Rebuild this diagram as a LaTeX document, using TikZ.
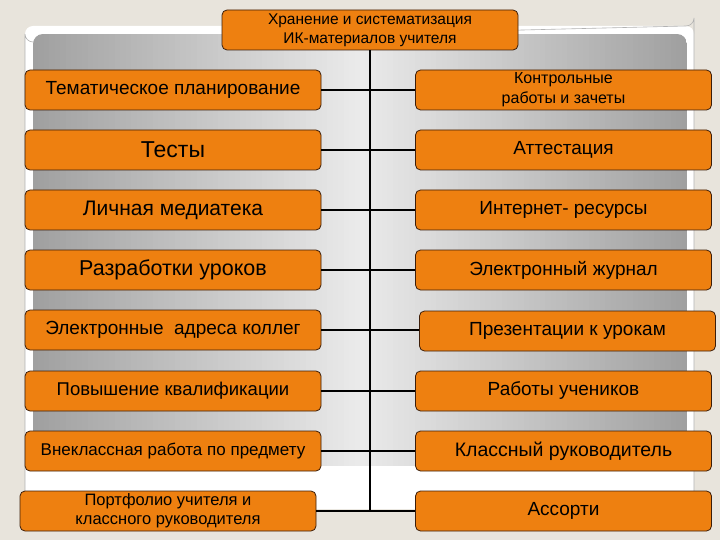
\documentclass[tikz,border=0pt]{standalone}
\usepackage{fontspec}
\setmainfont{Liberation Sans}
\definecolor{bgbeige}{RGB}{232,228,220}
\definecolor{boxfill}{RGB}{238,128,16}
\definecolor{boxline}{RGB}{60,30,10}
\definecolor{grayedge}{RGB}{160,160,160}
\definecolor{graymid}{RGB}{234,234,234}
\tikzset{
  box/.style={draw=boxline, line width=0.8pt, fill=boxfill, rounded corners=5pt,
    minimum width=296pt, minimum height=40pt, inner sep=2pt, align=center,
    text=black, font=\fontsize{19}{22}\selectfont},
  conn/.style={draw=black, line width=1.8pt}
}
\begin{document}
\begin{tikzpicture}[x=1pt,y=-1pt]
\useasboundingbox (0,0) rectangle (720,540);
\fill[bgbeige] (0,0) rectangle (720,540);
% white slide panel
\fill[white, rounded corners=8pt] (25,26) rectangle (694,509);
\draw[gray!60, line width=0.6pt] (25,509) -- (25,34) arc[start angle=180,end angle=90,radius=8] -- (686,26) arc[start angle=90,end angle=0,radius=8] -- (694,509);
% gray gradient panel (strips)
\begin{scope}
\clip[rounded corners=10pt] (33,34) rectangle (687,466);
\foreach \k in {0,...,59} {
  \pgfmathsetmacro{\t}{100*\k/59}
  \pgfmathsetmacro{\xa}{33+\k*5.45}
  \fill[graymid!\t!grayedge] (\xa,34) rectangle ++(6,432);
  \fill[graymid!\t!grayedge] (687-\k*5.45,34) rectangle ++(-6,432);
}
\end{scope}

\node[box, font=\fontsize{15.5}{19}\selectfont] (top) at (370,30) {Хранение и систематизация\\ИК-материалов учителя};

\node[box] (l1) at (173,90) {Тематическое планирование};
\node[box, font=\fontsize{23}{26}\selectfont] (l2) at (173,150) {Тесты};
\node[box, font=\fontsize{21}{24}\selectfont] (l3) at (173,210) {Личная медиатека};
\node[box, font=\fontsize{21.5}{24}\selectfont] (l4) at (173,270) {Разработки уроков};
\node[box] (l5) at (173,330) {Электронные\ \ адреса коллег};
\node[box, font=\fontsize{18.5}{22}\selectfont] (l6) at (173,391) {Повышение квалификации};
\node[box, font=\fontsize{17}{20}\selectfont] (l7) at (173,451) {Внеклассная работа по предмету};
\node[box, font=\fontsize{16.5}{19}\selectfont] (l8) at (168,511) {Портфолио учителя и\\классного руководителя};

\node[box, font=\fontsize{16}{20}\selectfont] (r1) at (563.5,90) {Контрольные\\работы и зачеты};
\node[box] (r2) at (563.5,150) {Аттестация};
\node[box] (r3) at (563.5,210) {Интернет- ресурсы};
\node[box] (r4) at (563.5,270) {Электронный журнал};
\node[box] (r5) at (567.5,331) {Презентации к урокам};
\node[box] (r6) at (563.5,391) {Работы учеников};
\node[box, font=\fontsize{19.5}{22}\selectfont] (r7) at (563.5,451) {Классный руководитель};
\node[box] (r8) at (563.5,511) {Ассорти};

\coordinate (vend) at (top.south |- r8.west);
\draw[conn] (top.south) -- (vend);
\foreach \i in {1,2,3,4,6,7,8} {\draw[conn] (l\i.east) -- (r\i.west);}
\draw[conn] (l5.east) -- (l5.east -| r5.west);
\end{tikzpicture}
\end{document}
